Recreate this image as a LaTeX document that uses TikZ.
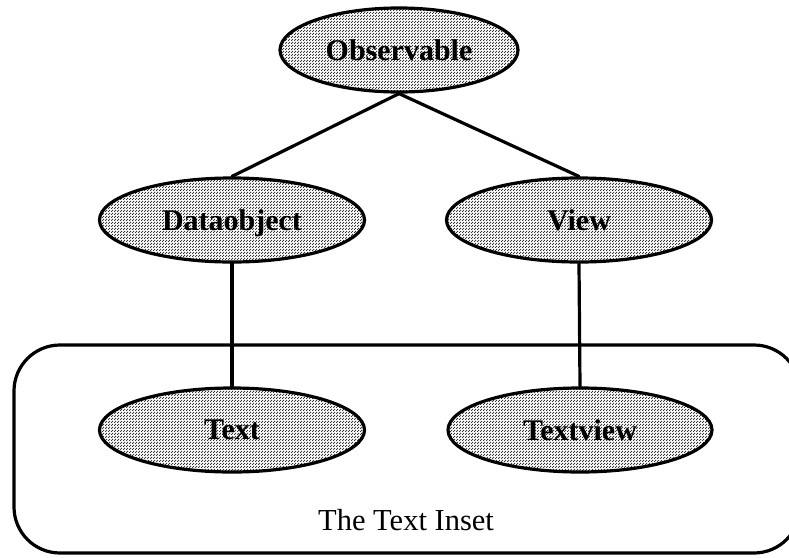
\documentclass[tikz,border=0pt]{standalone}
\usepackage{fontspec}
\setmainfont{Liberation Serif}
\usetikzlibrary{shapes.geometric,patterns}
% fine checkerboard screen used as the class fill
\pgfdeclarepatternformonly{screen}{\pgfpointorigin}{\pgfpoint{3pt}{3pt}}{\pgfpoint{3pt}{3pt}}{%
  \pgfpathrectangle{\pgfpoint{0pt}{0pt}}{\pgfpoint{1.45pt}{1.45pt}}%
  \pgfpathrectangle{\pgfpoint{1.5pt}{1.5pt}}{\pgfpoint{1.45pt}{1.45pt}}%
  \pgfusepath{fill}}
\begin{document}
\begin{tikzpicture}[x=1pt,y=-1pt,
  cls/.style={ellipse, draw=black, line width=3.2pt,
    preaction={fill=white}, pattern=screen, pattern color=black!80,
    inner sep=0pt, minimum height=84pt, text depth=0pt,
    font=\fontsize{30}{33}\selectfont\bfseries},
  link/.style={line width=3.2pt, line cap=round},
  inset/.style={draw=black, line width=3.2pt, rounded corners=46pt}]
  \useasboundingbox (0,0) rectangle (789,557);

  % the inset frame (runs past the right edge of the page)
  \draw[inset] (14,345) rectangle (800,553);
  \node[font=\fontsize{30.5}{34}\selectfont, anchor=base] (label) at (406,530) {The Text Inset};

  % class hierarchy
  \node[cls, minimum width=238pt] (obs) at (399,50) {Observable};
  \node[cls, minimum width=265pt] (data) at (232,220) {Dataobject};
  \node[cls, minimum width=265pt] (view) at (579,220) {View};
  \node[cls, minimum width=265pt] (text) at (232,430) {Text};
  \node[cls, minimum width=264pt] (tview) at (580,430) {Textview};

  \draw[link] (obs.south) -- (data.north);
  \draw[link] (obs.south) -- (view.north);
  \draw[link] (data.south) -- (text.north);
  \draw[link] (view.south) -- (tview.north);
\end{tikzpicture}
\end{document}
